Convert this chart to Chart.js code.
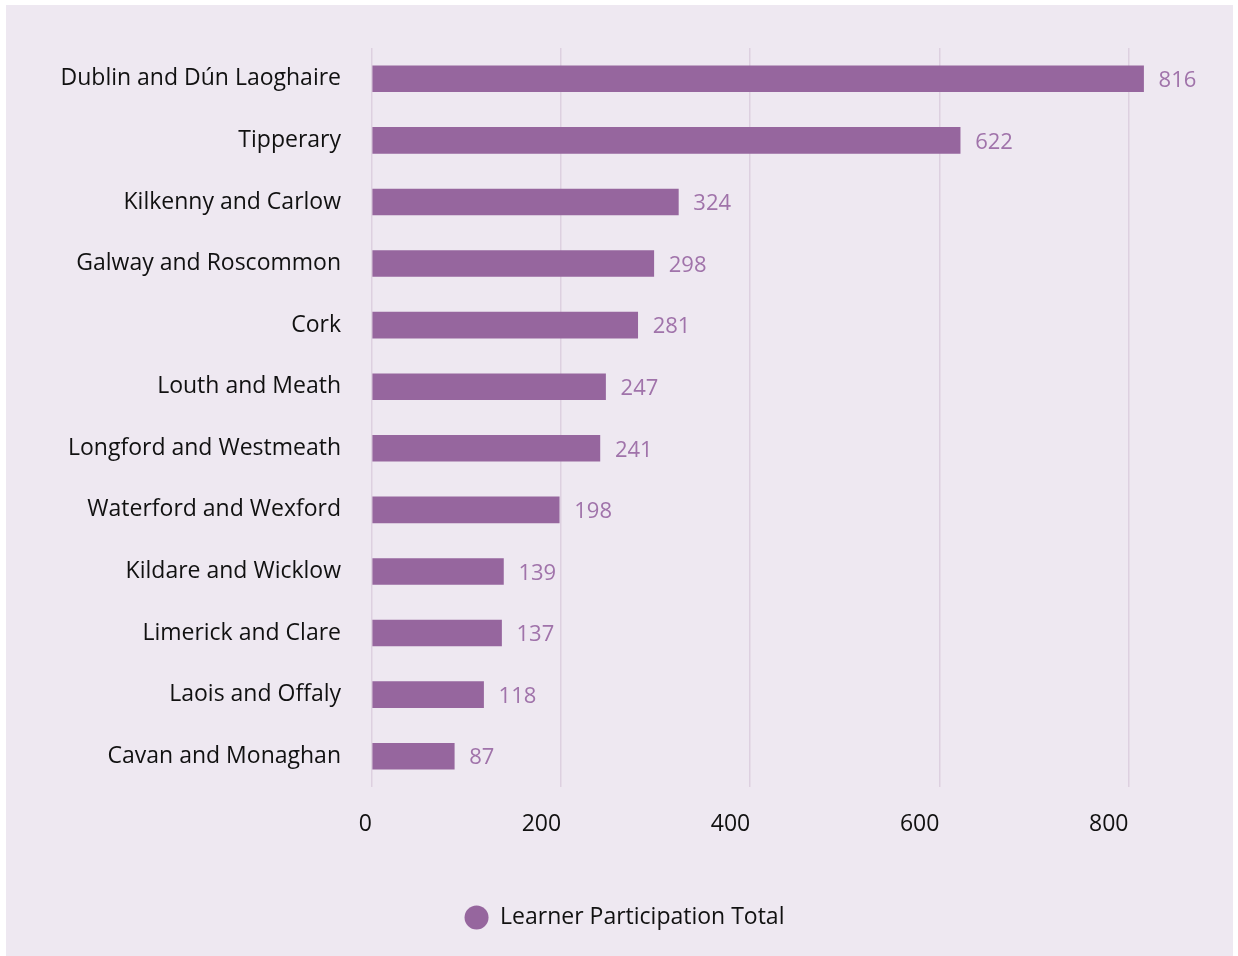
<!DOCTYPE html>
<html lang="en">
<head>
<meta charset="UTF-8">
<title>Learner Participation Total</title>
<script src="https://cdn.jsdelivr.net/npm/chart.js"></script>
<style>
  body { margin: 0; background: #fff; }
  .panel {
    position: absolute; left: 6px; top: 5px;
    width: 1227px; height: 951px;
    background: #eee8f1;
  }
</style>
</head>
<body>
<div class="panel"><canvas id="chart"></canvas></div>
<script>
const regions = [
  'Dublin and Dún Laoghaire', 'Tipperary', 'Kilkenny and Carlow',
  'Galway and Roscommon', 'Cork', 'Louth and Meath',
  'Longford and Westmeath', 'Waterford and Wexford', 'Kildare and Wicklow',
  'Limerick and Clare', 'Laois and Offaly', 'Cavan and Monaghan'
];
const totals = [816, 622, 324, 298, 281, 247, 241, 198, 139, 137, 118, 87];
const xTicks = [0, 200, 400, 600, 800];

const barColor = '#96669e';
const labelColor = '#a073aa';
const fontFamily = "'Open Sans', Lato, sans-serif";
const fontSize = 23;

// value printed just past the end of each bar
const valueLabels = {
  id: 'valueLabels',
  afterDatasetsDraw(chart) {
    const ctx = chart.ctx;
    const meta = chart.getDatasetMeta(0);
    ctx.save();
    ctx.font = '22px ' + fontFamily;
    ctx.fillStyle = labelColor;
    ctx.textAlign = 'left';
    ctx.textBaseline = 'middle';
    meta.data.forEach((bar, i) => {
      ctx.fillText(String(totals[i]), bar.x + 15, bar.y + 2);
    });
    ctx.restore();
  }
};

new Chart(document.getElementById('chart'), {
  type: 'bar',
  data: {
    labels: regions,
    datasets: [{
      label: 'Learner Participation Total',
      data: totals,
      backgroundColor: barColor,
      borderWidth: 0,
      barThickness: 26
    }]
  },
  plugins: [valueLabels],
  options: {
    indexAxis: 'y',
    responsive: true,
    maintainAspectRatio: false,
    animation: false,
    layout: { padding: { top: 43, right: 10, left: 20, bottom: 17 } },
    scales: {
      x: {
        min: 0,
        max: 900,
        afterBuildTicks: s => { s.ticks = xTicks.map(v => ({ value: v })); },
        afterFit: s => { s.height = 109; },
        grid: { color: '#ddd0e0', lineWidth: 1.5, drawTicks: false },
        border: { display: false },
        ticks: {
          align: 'end',
          padding: 24,
          color: '#111',
          font: { family: fontFamily, size: fontSize }
        }
      },
      y: {
        afterFit: s => { s.width = 346; },
        grid: { display: false },
        border: { display: false },
        ticks: {
          padding: 23,
          color: '#111',
          font: { family: fontFamily, size: fontSize }
        }
      }
    },
    plugins: {
      legend: {
        position: 'bottom',
        labels: {
          usePointStyle: true,
          pointStyle: 'circle',
          pointStyleWidth: 24,
          boxHeight: 17,
          color: '#111',
          font: { family: fontFamily, size: fontSize },
          padding: 10
        }
      },
      tooltip: { enabled: false }
    }
  }
});
</script>
</body>
</html>
